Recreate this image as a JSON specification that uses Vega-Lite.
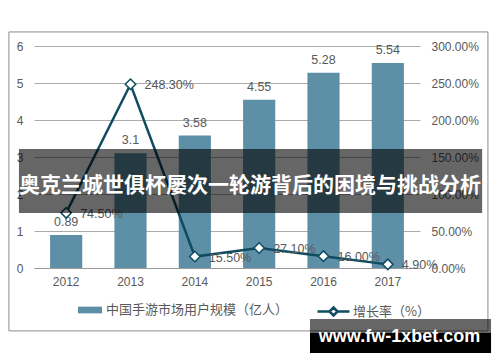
{
  "$schema": "https://vega.github.io/schema/vega-lite/v6.json",
  "width": 386,
  "height": 222,
  "autosize": {"type": "none"},
  "padding": {"left": 34, "top": 46, "right": 80, "bottom": 94},
  "background": "white",
  "config": {"view": {"stroke": null}, "font": "Liberation Sans", "text": {"font": "Liberation Sans"}},
  "datasets": {
    "market": [
      {"year": "2012", "users": 0.89, "rate": 0.745},
      {"year": "2013", "users": 3.1, "rate": 2.483},
      {"year": "2014", "users": 3.58, "rate": 0.155},
      {"year": "2015", "users": 4.55, "rate": 0.271},
      {"year": "2016", "users": 5.28, "rate": 0.16},
      {"year": "2017", "users": 5.54, "rate": 0.049}
    ]
  },
  "layer": [
    {
      "data": {"values": [{}]},
      "mark": {"type": "rect", "fill": "transparent", "stroke": "#8c8c8c", "strokeWidth": 1},
      "encoding": {
        "x": {"datum": -0.065, "type": "quantitative", "scale": {"domain": [0, 1], "nice": false, "zero": false}, "axis": null},
        "x2": {"datum": 1.176},
        "y": {"datum": 6.38, "type": "quantitative", "scale": {"domain": [0, 6], "nice": false, "zero": false}, "axis": null},
        "y2": {"datum": -1.7}
      }
    },
    {
      "data": {"name": "market"},
      "encoding": {
        "x": {"field": "year", "type": "ordinal", "scale": {"paddingInner": 0.5, "paddingOuter": 0.25},
          "axis": {"title": null, "labelAngle": 0, "labelFontSize": 12, "labelColor": "#595959", "ticks": false, "domain": true, "domainColor": "#999999", "labelPadding": 8}},
        "y": {"field": "users", "type": "quantitative", "scale": {"domain": [0, 6], "nice": false},
          "axis": {"orient": "left", "title": null, "values": [0, 1, 2, 3, 4, 5, 6], "labelOverlap": false, "grid": true, "gridColor": "#ababab", "domain": false, "ticks": false, "labelPadding": 11, "labelFontSize": 12, "labelColor": "#595959"}}
      },
      "layer": [
        {
          "mark": {"type": "bar"},
          "encoding": {
            "fill": {"datum": "中国手游市场用户规模（亿人）", "type": "nominal", "scale": {"range": ["#5d8fa6"]},
              "legend": {"orient": "none", "legendX": 44, "legendY": 252, "title": null, "symbolType": "M-1,-0.28H1V0.28H-1Z", "symbolSize": 576, "symbolStrokeWidth": 0, "labelFont": "Noto Sans CJK SC", "labelFontSize": 13, "labelColor": "#595959", "labelOffset": 4, "labelLimit": 400}}
          }
        },
        {
          "mark": {"type": "text", "dy": -6, "baseline": "bottom", "fontSize": 12.5, "color": "#595959"},
          "encoding": {
            "text": {"field": "users", "type": "quantitative", "format": "~g"}
          }
        }
      ]
    },
    {
      "data": {"name": "market"},
      "encoding": {
        "x": {"field": "year", "type": "ordinal", "scale": {"paddingInner": 0.5, "paddingOuter": 0.25}, "axis": null},
        "y": {"field": "rate", "type": "quantitative", "scale": {"domain": [0, 3], "nice": false},
          "axis": {"orient": "right", "title": null, "values": [0, 0.5, 1, 1.5, 2, 2.5, 3], "labelOverlap": false, "format": ".2%", "grid": false, "domain": false, "ticks": false, "labelPadding": 11, "labelFontSize": 12, "labelColor": "#595959"}}
      },
      "layer": [
        {
          "mark": {"type": "line", "strokeWidth": 2.5},
          "encoding": {
            "stroke": {"datum": "增长率（%）", "type": "nominal", "scale": {"range": ["#0f4c60"]},
              "legend": {"orient": "none", "legendX": 282, "legendY": 248, "title": null, "symbolType": "M-1,0H-0.25M0.25,0H1M0,-0.25L0.25,0L0,0.25L-0.25,0Z", "symbolSize": 1024, "symbolFillColor": "white", "symbolStrokeColor": "#0f4c60", "symbolStrokeWidth": 2.5, "labelFont": "Noto Sans CJK SC", "labelFontSize": 13, "labelColor": "#595959", "labelOffset": 2, "labelLimit": 300}}
          }
        },
        {
          "mark": {"type": "point", "shape": "diamond", "filled": true, "fill": "white", "stroke": "#0f4c60", "strokeWidth": 1.5, "size": 110, "opacity": 1},
          "encoding": {}
        },
        {
          "mark": {"type": "text", "align": "left", "baseline": "middle", "dx": 14, "dy": 1, "fontSize": 12.5, "color": "#595959"},
          "encoding": {
            "text": {"field": "rate", "type": "quantitative", "format": ".2%"}
          }
        }
      ]
    },
    {
      "data": {"values": [{}]},
      "layer": [
        {
          "mark": {"type": "rect", "fill": "black", "fillOpacity": 0.6},
          "encoding": {
            "x": {"datum": -0.039, "type": "quantitative", "scale": {"domain": [0, 1], "nice": false, "zero": false}, "axis": null},
            "x2": {"datum": 1.161},
            "y": {"datum": 3.216, "type": "quantitative", "scale": {"domain": [0, 6], "nice": false, "zero": false}, "axis": null},
            "y2": {"datum": 1.486}
          }
        },
        {
          "mark": {"type": "text", "text": "奥克兰城世俱杯屡次一轮游背后的困境与挑战分析", "font": "Noto Sans CJK SC", "fontWeight": "bold", "fontSize": 21, "color": "white", "align": "center", "baseline": "middle"},
          "encoding": {
            "x": {"datum": 0.5596, "type": "quantitative", "axis": null},
            "y": {"datum": 2.22, "type": "quantitative", "axis": null}
          }
        },
        {
          "mark": {"type": "rect", "fill": "black", "fillOpacity": 0.6},
          "encoding": {
            "x": {"datum": 0.715, "type": "quantitative", "axis": null},
            "x2": {"datum": 1.184},
            "y": {"datum": -1.378, "type": "quantitative", "axis": null},
            "y2": {"datum": -2.297}
          }
        },
        {
          "mark": {"type": "rect", "fill": "black", "fillOpacity": 1},
          "encoding": {
            "x": {"datum": 0.715, "type": "quantitative", "axis": null},
            "x2": {"datum": 1.184},
            "y": {"datum": -1.757, "type": "quantitative", "axis": null},
            "y2": {"datum": -2.297}
          }
        },
        {
          "mark": {"type": "text", "text": "www.fw-1xbet.com", "font": "Liberation Sans", "fontWeight": "bold", "fontSize": 18, "color": "white", "align": "center", "baseline": "middle"},
          "encoding": {
            "x": {"datum": 0.947, "type": "quantitative", "axis": null},
            "y": {"datum": -1.865, "type": "quantitative", "axis": null}
          }
        }
      ]
    }
  ],
  "resolve": {
    "scale": {"x": "independent", "y": "independent", "fill": "independent", "stroke": "independent"},
    "axis": {"x": "independent", "y": "independent"}
  }
}
